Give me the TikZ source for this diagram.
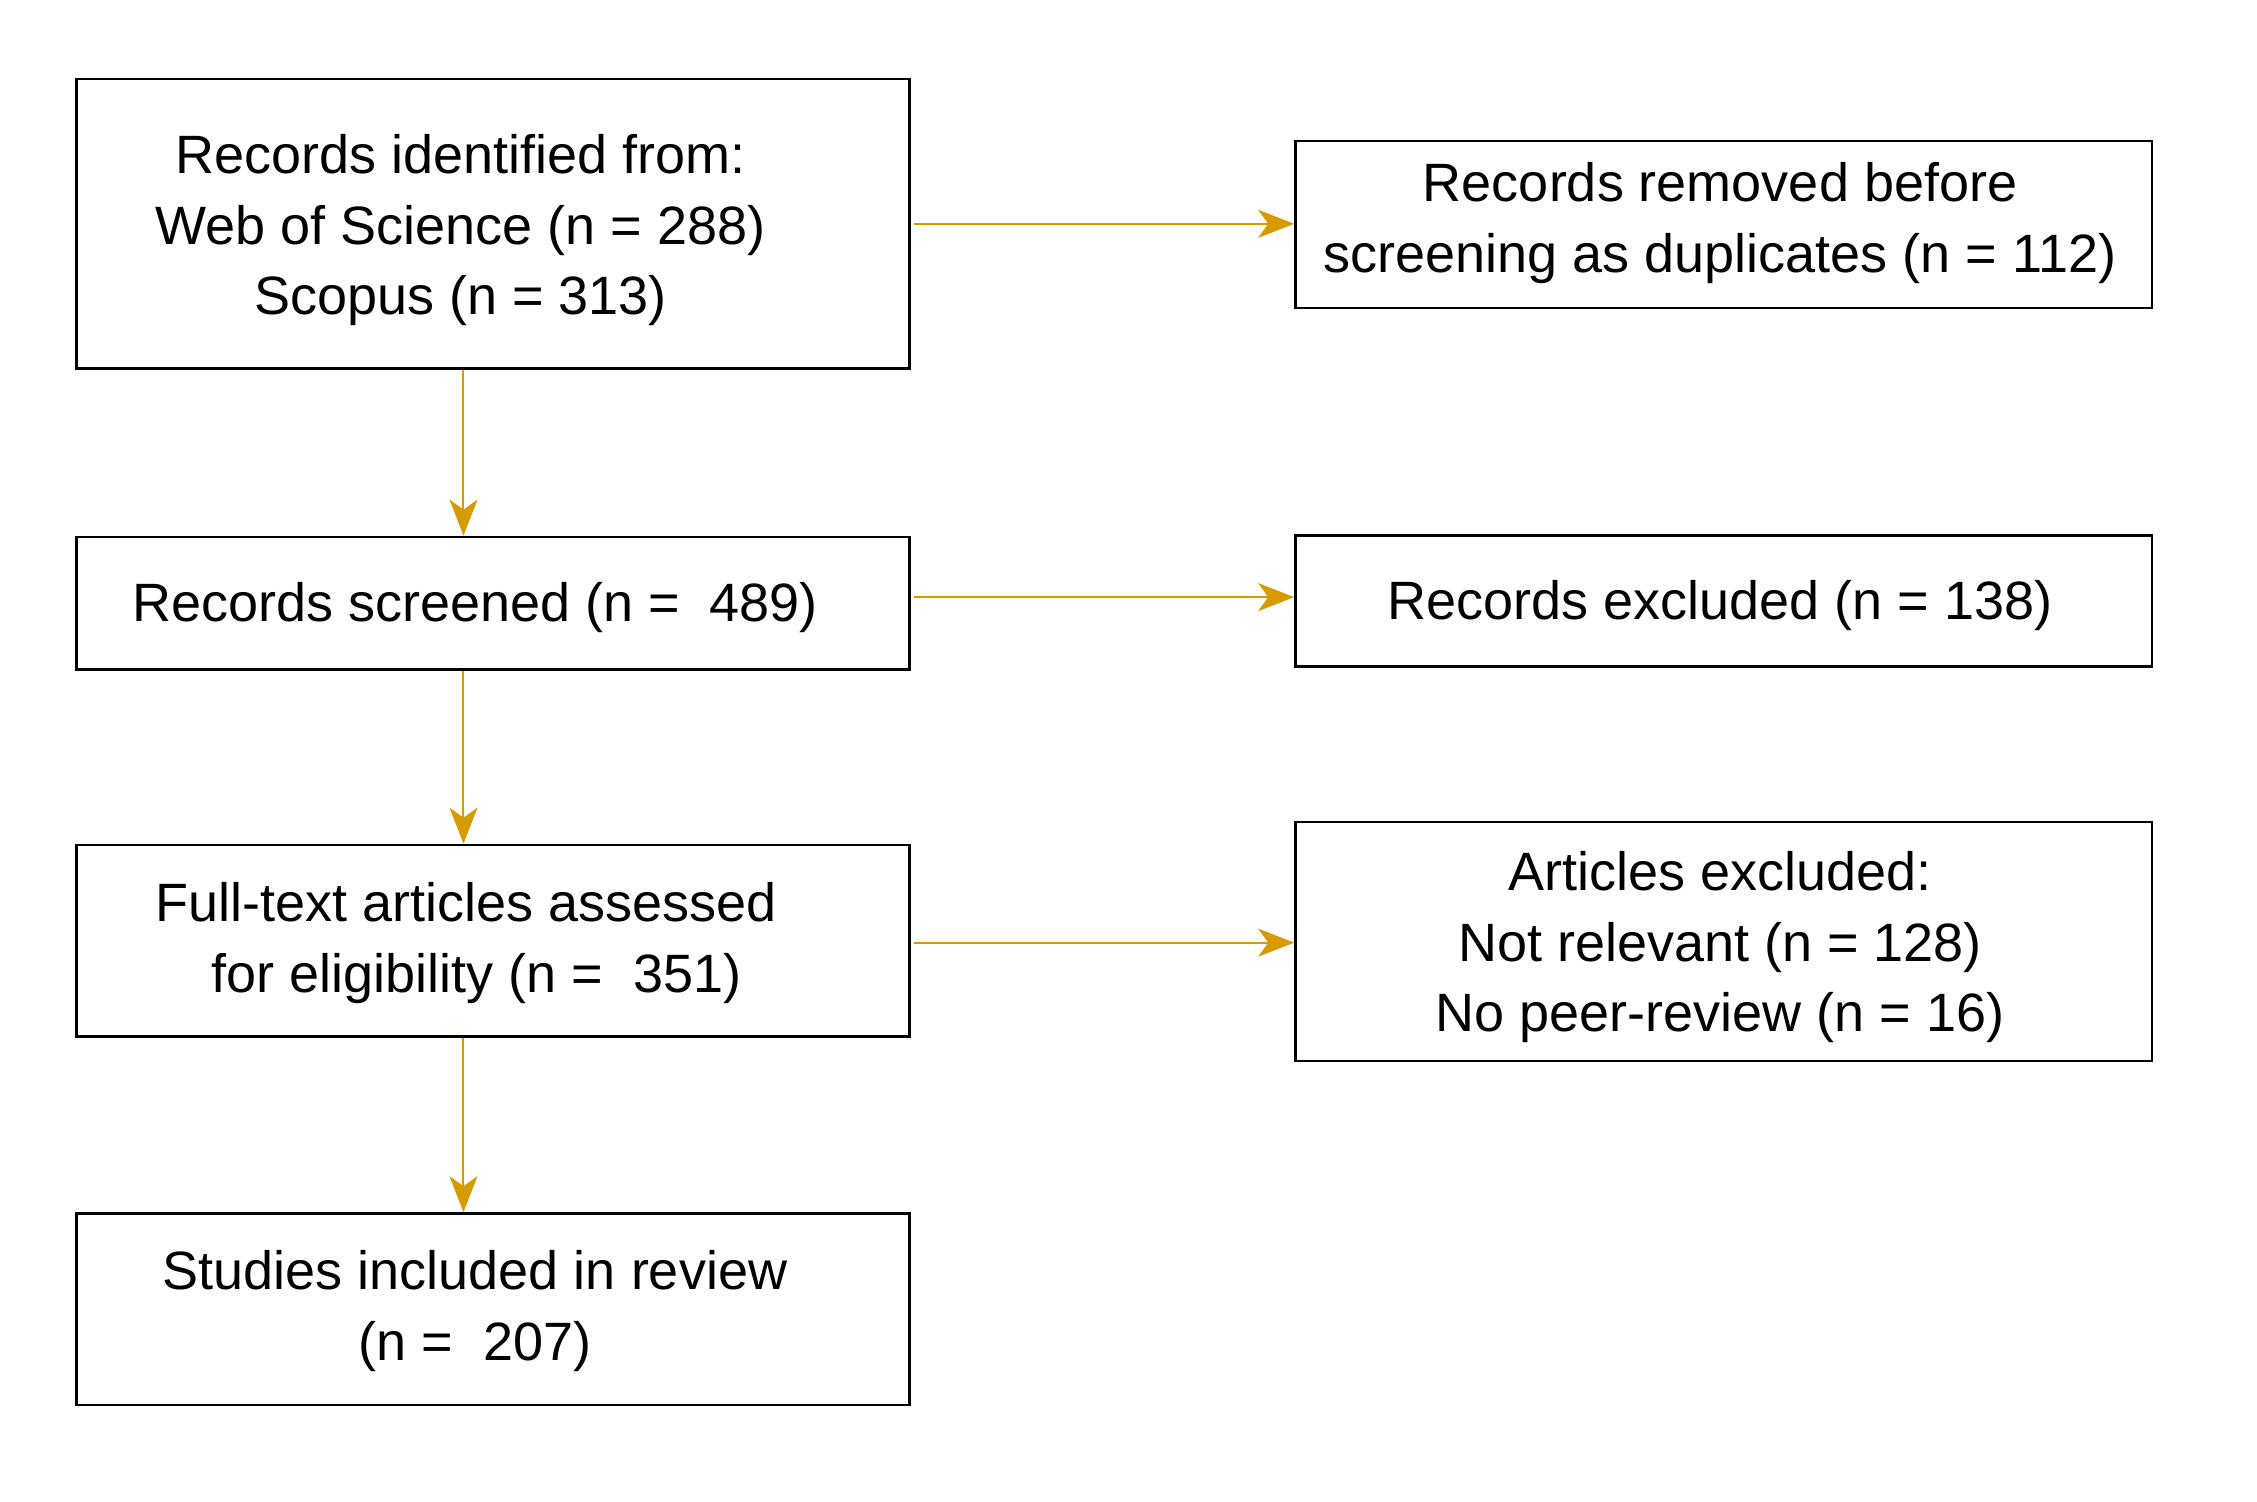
\documentclass[tikz,border=0pt]{standalone}
\usepackage{fontspec}
\setmainfont{Liberation Sans}
\usetikzlibrary{arrows.meta}
\definecolor{flowOrange}{RGB}{215,155,0}

\begin{document}
\begin{tikzpicture}[x=0.7197pt,y=0.7197pt,yscale=-1,xscale=1,
  box/.style={draw, line width=1.3pt, inner sep=0pt},
  leftbox/.style={box, minimum width=416.7pt},
  rightbox/.style={box, minimum width=428.2pt},
  txt/.style={inner sep=0pt, align=center, font=\fontsize{27}{35.3}\selectfont},
  flow/.style={draw=flowOrange, line width=1pt, -{Stealth[length=18pt, width=14pt, inset=5pt, flowOrange]}}]
\useasboundingbox (0,0) rectangle (1568,1043);

%Shape: Rectangle [left column]
\node [leftbox, minimum height=144.7pt] (ident) at (342.5,155.5) {};
\node [leftbox, minimum height=66.2pt] (screen) at (342.5,419) {};
\node [leftbox, minimum height=95.7pt] (full) at (342.5,653.5) {};
\node [leftbox, minimum height=95.7pt] (incl) at (342.5,909.5) {};
%Shape: Rectangle [right column]
\node [rightbox, minimum height=83.5pt] (dupl) at (1197.5,156) {};
\node [rightbox, minimum height=65.5pt] (excl) at (1197.5,417.5) {};
\node [rightbox, minimum height=119.5pt] (artex) at (1197.5,654) {};

% Text Node
\node [txt] (identtxt) at (320,160) {Records identified from:\\Web of Science (n = 288)\\Scopus (n = 313)};
% Text Node
\node [txt] (screentxt) at (330,422) {Records screened (n =\ \ 489)};
% Text Node
\node [txt] (fulltxt) at (324,655) {Full-text articles assessed\\\hspace*{10pt}for eligibility (n =\ \ 351)};
% Text Node
\node [txt] (incltxt) at (330,911) {Studies included in review\\(n =\ \ 207)};
% Text Node
\node [txt] (dupltxt) at (1195,155) {Records removed before\\screening as duplicates (n = 112)};
% Text Node
\node [txt] (excltxt) at (1195,421) {Records excluded (n = 138)};
% Text Node
\node [txt] (artextxt) at (1195,658) {Articles excluded:\\Not relevant (n = 128)\\No peer-review (n = 16)};

%Straight Lines [down]
\coordinate (col) at (322,0);
\draw [flow] (ident.south -| col) -- (screen.north -| col);
\draw [flow] (screen.south -| col) -- (full.north -| col);
\draw [flow] (full.south -| col) -- (incl.north -| col);
%Straight Lines [right]
\draw [flow] ([xshift=1.5pt]ident.east) -- (ident.east -| dupl.west);
\draw [flow] ([xshift=1.5pt,yshift=-3pt]screen.east) -- ([yshift=-3pt]screen.east -| excl.west);
\draw [flow] ([xshift=1.5pt,yshift=1pt]full.east) -- ([yshift=1pt]full.east -| artex.west);

\end{tikzpicture}
\end{document}
